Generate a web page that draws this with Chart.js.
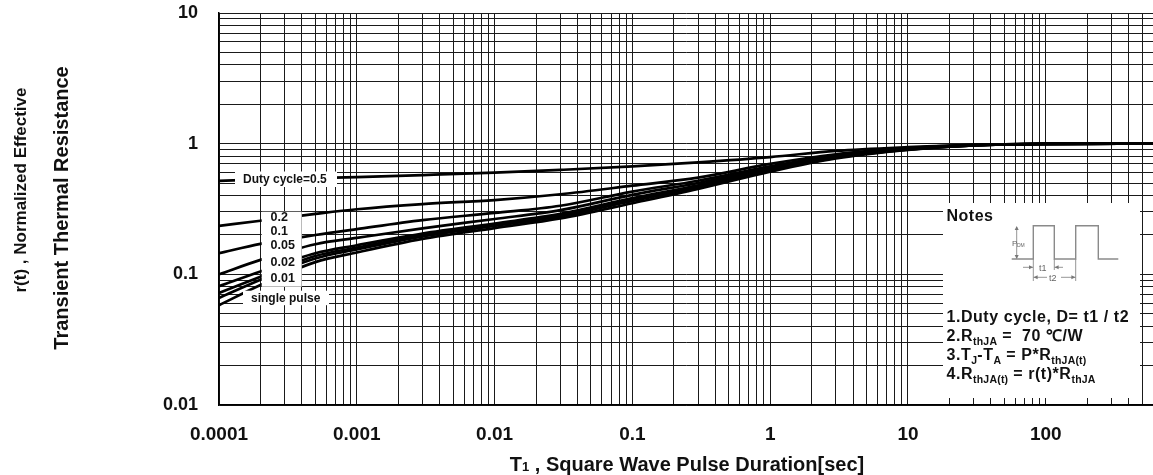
<!DOCTYPE html>
<html><head><meta charset="utf-8">
<script src="https://cdn.jsdelivr.net/npm/chart.js@4"></script>
<style>html,body{margin:0;padding:0;background:#fff;overflow:hidden}#wrap{width:1153px;height:475px;position:relative}canvas{display:block}</style>
</head><body><div id="wrap"><canvas id="c" width="1153" height="475"></canvas></div>
<script>
// ---- data ----
const pulseTimes = [1e-4, 2e-4, 5e-4, 1e-3, 3e-3, 1e-2, 3e-2, 0.1, 0.3, 1, 3, 10, 30, 100, 600];
const duty05   = [0.52, 0.53, 0.545, 0.555, 0.575, 0.60, 0.63, 0.67, 0.72, 0.79, 0.88, 0.94, 0.98, 0.995, 1.0];
const duty02   = [0.235, 0.257, 0.29, 0.315, 0.345, 0.37, 0.41, 0.477, 0.55, 0.70, 0.83, 0.925, 0.978, 0.995, 1.0];
const duty01   = [0.145, 0.171, 0.20, 0.222, 0.26, 0.295, 0.335, 0.43, 0.52, 0.67, 0.815, 0.918, 0.976, 0.995, 1.0];
const duty005  = [0.100, 0.129, 0.17, 0.19, 0.225, 0.265, 0.31, 0.406, 0.50, 0.65, 0.80, 0.912, 0.974, 0.995, 1.0];
const duty002  = [0.081, 0.105, 0.145, 0.167, 0.205, 0.245, 0.29, 0.383, 0.48, 0.64, 0.79, 0.907, 0.972, 0.995, 1.0];
const duty001  = [0.072, 0.096, 0.138, 0.160, 0.20, 0.24, 0.283, 0.375, 0.47, 0.63, 0.785, 0.903, 0.971, 0.995, 1.0];
const dutyLow  = [0.066, 0.091, 0.132, 0.155, 0.195, 0.235, 0.277, 0.365, 0.46, 0.62, 0.78, 0.90, 0.97, 0.995, 1.0];
const singlePulse = [0.058, 0.083, 0.124, 0.147, 0.187, 0.226, 0.268, 0.35, 0.45, 0.61, 0.77, 0.895, 0.97, 0.995, 1.0];
const seriesNames = ['Duty cycle=0.5', '0.2', '0.1', '0.05', '0.02', '0.01', '', 'single pulse'];
const seriesValues = [duty05, duty02, duty01, duty005, duty002, duty001, dutyLow, singlePulse];
const xTickLabels = ['0.0001', '0.001', '0.01', '0.1', '1', '10', '100'];
const yTickLabels = ['0.01', '0.1', '1', '10'];
const xMin = 1e-4, xMax = 600, yMin = 0.01, yMax = 10;
const xTitle = ['T', '1', ' , Square Wave Pulse Duration[sec]'];
const yTitle = ['r(t) , Normalized Effective', 'Transient Thermal Resistance'];
const labelBoxTexts = ['0.2', '0.1', '0.05', '0.02', '0.01'];

const FONT = "'Liberation Sans', Arial, sans-serif";
const TXT = '#111';

function logTicks(min, max) {
  const out = [];
  for (let e = Math.floor(Math.log10(min)); e <= Math.ceil(Math.log10(max)); e++) {
    for (let m = 1; m <= 9; m++) {
      const v = parseFloat((m * Math.pow(10, e)).toPrecision(6));
      if (v >= min * 0.9999 && v <= max * 1.0001) out.push({value: v});
    }
  }
  return out;
}
function decadeLabel(v, labels) {
  for (const l of labels) if (Math.abs(Number(l) - v) / v < 1e-6) return l;
  return '';
}
function zeroPad(s) { s.paddingTop = 0; s.paddingBottom = 0; s.paddingLeft = 0; s.paddingRight = 0; }

const overlay = {
  id: 'overlay',
  afterDatasetsDraw(chart) {
    const ctx = chart.ctx;
    ctx.save();
    ctx.fillStyle = '#fff';
    // legend label boxes
    ctx.fillRect(235, 171.5, 102, 15.5);
    ctx.fillRect(261.7, 211.7, 40, 75);
    ctx.fillRect(243, 290.7, 86, 14.5);
    ctx.fillStyle = TXT;
    ctx.font = 'bold 12px ' + FONT;
    ctx.textBaseline = 'middle';
    ctx.textAlign = 'left';
    ctx.fillText(seriesNames[0], 243, 180);
    const ly = [217.5, 231.5, 245.5, 263, 279];
    ctx.font = 'bold 12.5px ' + FONT;
    labelBoxTexts.forEach((t, i) => ctx.fillText(t, 270.5, ly[i]));
    ctx.font = 'bold 12px ' + FONT;
    ctx.fillText(seriesNames[7], 251, 298.5);

    // Notes box
    ctx.fillStyle = '#fff';
    ctx.fillRect(943, 203, 197, 195);
    ctx.fillStyle = TXT;
    ctx.font = 'bold 16px ' + FONT;
    ctx.letterSpacing = '0.5px';
    ctx.textBaseline = 'alphabetic';
    ctx.fillText('Notes', 946.5, 220.5);
    ctx.letterSpacing = '0px';
    // waveform
    ctx.strokeStyle = '#8a8a8a';
    ctx.lineWidth = 1.4;
    ctx.beginPath();
    ctx.moveTo(1011.7, 259); ctx.lineTo(1033.3, 259); ctx.lineTo(1033.3, 225.7);
    ctx.lineTo(1054.3, 225.7); ctx.lineTo(1054.3, 259); ctx.lineTo(1075.7, 259);
    ctx.lineTo(1075.7, 225.7); ctx.lineTo(1098.3, 225.7); ctx.lineTo(1098.3, 259); ctx.lineTo(1118.3, 259);
    ctx.stroke();
    ctx.lineWidth = 0.9;
    ctx.beginPath();
    ctx.moveTo(1033.3, 259); ctx.lineTo(1033.3, 281);
    ctx.moveTo(1075.7, 259); ctx.lineTo(1075.7, 281);
    ctx.moveTo(1054.3, 259); ctx.lineTo(1054.3, 270);
    ctx.moveTo(1016.7, 227); ctx.lineTo(1016.7, 258);
    ctx.moveTo(1023, 267.3); ctx.lineTo(1033, 267.3);
    ctx.moveTo(1054.5, 267.3); ctx.lineTo(1063, 267.3);
    ctx.moveTo(1033.5, 277.3); ctx.lineTo(1047, 277.3);
    ctx.moveTo(1061, 277.3); ctx.lineTo(1075.5, 277.3);
    ctx.stroke();
    ctx.fillStyle = '#777';
    const tri = (x, y, dx, dy) => { ctx.beginPath(); ctx.moveTo(x, y); ctx.lineTo(x - dx * 4 - dy * 2, y - dy * 4 - dx * 2); ctx.lineTo(x - dx * 4 + dy * 2, y - dy * 4 + dx * 2); ctx.closePath(); ctx.fill(); };
    tri(1016.7, 226, 0, -1); tri(1016.7, 259, 0, 1);
    tri(1033, 267.3, 1, 0); tri(1054.6, 267.3, -1, 0);
    tri(1033.6, 277.3, -1, 0); tri(1075.4, 277.3, 1, 0);
    ctx.fillStyle = '#666';
    ctx.font = '9px ' + FONT;
    ctx.fillText('t1', 1039, 270.5);
    ctx.fillText('t2', 1049, 280.5);
    ctx.font = '8px ' + FONT;
    ctx.fillText('P', 1012, 246);
    ctx.font = '5px ' + FONT;
    ctx.fillText('DM', 1017, 247);

    // note lines with subscripts
    const big = 'bold 16px ' + FONT, small = 'bold 10.5px ' + FONT;
    const rich = (parts, x, y) => {
      let cx = x;
      for (const p of parts) {
        const sub = p[1];
        ctx.font = sub ? small : big;
        ctx.letterSpacing = sub ? '0.2px' : '0.55px';
        ctx.fillText(p[0], cx, sub ? y + 4 : y);
        cx += ctx.measureText(p[0]).width;
      }
      ctx.letterSpacing = '0px';
    };
    ctx.fillStyle = TXT;
    rich([['1.Duty cycle, D= t1 / t2', 0]], 946.5, 322);
    rich([['2.R', 0], ['thJA', 1], [' =  70 \u2103/W', 0]], 946.5, 341);
    rich([['3.T', 0], ['J', 1], ['-T', 0], ['A', 1], [' = P*R', 0], ['thJA(t)', 1]], 946.5, 360);
    rich([['4.R', 0], ['thJA(t)', 1], [' = r(t)*R', 0], ['thJA', 1]], 946.5, 379);

    // axis titles
    ctx.fillStyle = TXT;
    const bigT = 'bold 20px ' + FONT, smallT = 'bold 13px ' + FONT;
    ctx.font = bigT;
    const w0 = ctx.measureText(xTitle[0]).width;
    const w2 = ctx.measureText(xTitle[2]).width;
    ctx.font = smallT;
    const w1 = ctx.measureText(xTitle[1]).width;
    let sx = 687 - (w0 + w1 + w2) / 2;
    const by = 470.5;
    ctx.font = bigT; ctx.fillText(xTitle[0], sx, by); sx += w0;
    ctx.font = smallT; ctx.fillText(xTitle[1], sx, by); sx += w1;
    ctx.font = bigT; ctx.fillText(xTitle[2], sx, by);

    ctx.textAlign = 'center';
    ctx.textBaseline = 'middle';
    [[21, 190, yTitle[0], 17], [62, 208, yTitle[1], 20]].forEach(([x, y, t, fs]) => {
      ctx.font = 'bold ' + fs + 'px ' + FONT;
      ctx.save(); ctx.translate(x, y); ctx.rotate(-Math.PI / 2); ctx.fillText(t, 0, 0); ctx.restore();
    });
    ctx.restore();
  }
};

new Chart(document.getElementById('c'), {
  type: 'line',
  data: {
    datasets: seriesValues.map((vals, i) => ({
      label: seriesNames[i],
      data: pulseTimes.map((t, j) => ({x: t, y: vals[j]})),
      borderColor: '#000',
      borderWidth: 2.7,
      pointRadius: 0,
      fill: false,
      cubicInterpolationMode: 'monotone'
    }))
  },
  options: {
    responsive: false,
    maintainAspectRatio: false,
    animation: false,
    devicePixelRatio: 1,
    layout: {padding: {top: 13, left: 0, right: 0, bottom: 0}},
    plugins: {legend: {display: false}, tooltip: {enabled: false}, title: {display: false}},
    scales: {
      x: {
        type: 'logarithmic', min: xMin, max: xMax,
        afterBuildTicks: s => { s.ticks = logTicks(xMin, xMax); },
        afterFit: s => { s.height = 70; zeroPad(s); },
        grid: {color: '#1a1a1a', lineWidth: 1, drawTicks: false},
        border: {color: '#000', width: 1.5},
        ticks: {autoSkip: false, maxRotation: 0, padding: 18, color: TXT,
          font: {family: FONT, size: 19, weight: 'bold'},
          callback: v => decadeLabel(v, xTickLabels)}
      },
      y: {
        type: 'logarithmic', min: yMin, max: yMax,
        afterBuildTicks: s => { s.ticks = logTicks(yMin, yMax); },
        afterFit: s => { s.width = 219; zeroPad(s); },
        grid: {color: '#1a1a1a', lineWidth: 1, drawTicks: false},
        border: {color: '#000', width: 1.5},
        ticks: {autoSkip: false, padding: 21, color: TXT,
          font: {family: FONT, size: 18, weight: 'bold'},
          callback: v => decadeLabel(v, yTickLabels)}
      }
    }
  },
  plugins: [overlay]
});
</script>
</body></html>
